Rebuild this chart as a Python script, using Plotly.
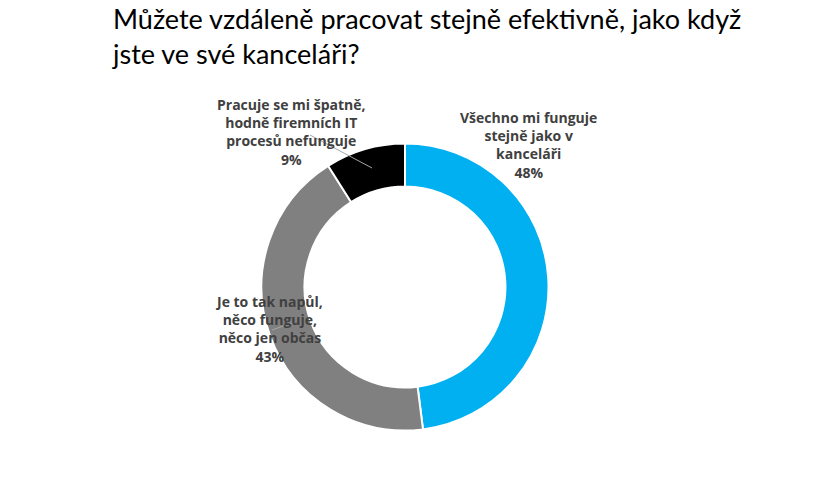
import plotly.graph_objects as go

labels = ["Všechno mi funguje<br>stejně jako v<br>kanceláři", "Je to tak napůl,<br>něco funguje,<br>něco jen občas", "Pracuje se mi špatně,<br>hodně firemních IT<br>procesů nefunguje"]
values = [48, 43, 9]
colors = ["#00B0F0", "#808080", "#000000"]

W, H = 840, 480
off = 8  # page offset compensation
cx, cy, R = 405 - off, 287 - off, 143.5
fig = go.Figure(go.Pie(
    labels=labels, values=values, hole=0.7, sort=False, direction="clockwise", rotation=0,
    marker=dict(colors=colors, line=dict(color="white", width=2)),
    textinfo="none", hoverinfo="label+percent", showlegend=False,
    domain=dict(x=[(cx-R)/W, (cx+R)/W], y=[1-(cy+R)/H, 1-(cy-R)/H])))

pos = [(528, 106), (213, 290), (215, 93)]  # centre x, top y
for lab, v, (x, y) in zip(labels, values, pos):
    fig.add_annotation(x=(x-off)/W, y=1-(y-off)/H, xref="paper", yref="paper", showarrow=False,
                       yanchor="top", text=f"<b>{lab}<br>{v}%</b>", align="center",
                       font=dict(family="Open Sans", size=14, color="#404040"))

for x0, y0, x1, y1 in [(310, 135, 372, 168), (272, 330, 292, 323)]:
    fig.add_shape(type="line", xref="paper", yref="paper", x0=(x0-off)/W, y0=1-(y0-off)/H,
                  x1=(x1-off)/W, y1=1-(y1-off)/H, line=dict(color="#A6A6A6", width=1))

fig.add_annotation(x=(110-off)/W, y=1, xref="paper", yref="paper", xanchor="left", yanchor="top",
                   yshift=8, showarrow=False, align="left",
                   text="Můžete vzdáleně pracovat stejně efektivně, jako když<br>jste ve své kanceláři?",
                   font=dict(family="Lato", size=27, color="#000000"))

fig.update_layout(width=W, height=H, margin=dict(l=0, r=0, t=0, b=0),
                  paper_bgcolor="white", plot_bgcolor="white")
fig.write_html("out.html")
